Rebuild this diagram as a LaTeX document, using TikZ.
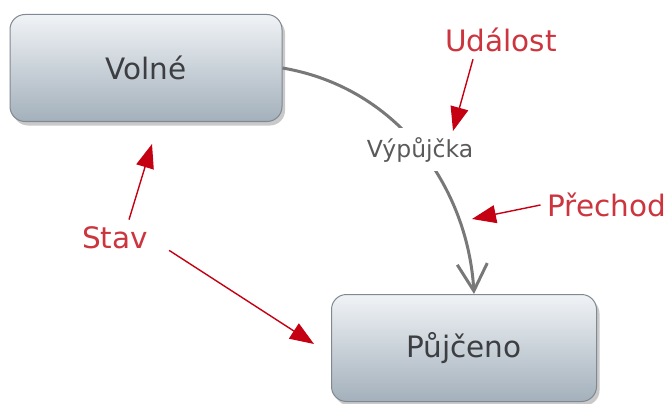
\documentclass[tikz,border=0pt]{standalone}
\usepackage{fontspec}
\setmainfont{DejaVu Sans}
\usetikzlibrary{arrows.meta,shadows}

\definecolor{boxtop}{RGB}{240,243,246}
\definecolor{boxbottom}{RGB}{163,176,187}
\definecolor{boxline}{RGB}{128,136,144}
\definecolor{boxtext}{RGB}{60,62,66}
\definecolor{flowgray}{RGB}{120,120,120}
\definecolor{eventtext}{RGB}{90,90,90}
\definecolor{notetext}{RGB}{204,52,62}
\definecolor{notearrow}{RGB}{196,0,18}

\tikzset{
  state/.style={draw=boxline, line width=1pt, rounded corners=15pt,
    top color=boxtop, bottom color=boxbottom,
    minimum width=272pt, minimum height=107pt,
    text=boxtext, font=\fontsize{29.5}{35}\selectfont,
    drop shadow={shadow xshift=3pt, shadow yshift=-4pt, opacity=0.3, fill=black!70}},
  event/.style={fill=white, inner sep=9pt, text=eventtext,
    font=\fontsize{23.5}{28}\selectfont},
  note/.style={text=notetext, font=\fontsize{29.5}{35}\selectfont, inner sep=7pt},
  flow/.style={draw=flowgray, line width=3pt,
    -{Straight Barb[length=27pt,width=30pt,line width=3pt]}},
  pointer/.style={draw=notearrow, line width=1.4pt,
    -{Triangle[length=24pt,width=18pt]}}
}

\begin{document}
\begin{tikzpicture}[x=1pt,y=-1pt]
  \useasboundingbox (0,0) rectangle (670,404);

  % states
  \node[state] (volne) at (146,68) {Volné};
  \node[state, minimum width=265pt] (pujceno) at (464,348) {Půjčeno};

  % transition with its event label
  \draw[flow] (volne.east) .. controls (400,88) and (468,190) .. ([xshift=10pt]pujceno.north)
    node[pos=0.5, event] (vypujcka) {Výpůjčka};

  % annotations
  \node[note] (udalost) at (501,40) {Událost};
  \node[note] (prechod) at (607,205) {Přechod};
  \node[note] (stav) at (115,238) {Stav};

  \coordinate (eventTip) at (453,131);
  \coordinate (flowTip) at (472,219);
  \coordinate (volneTip) at (152,144);
  \coordinate (pujcenoTip) at (314,344);

  \draw[pointer] ([xshift=-28pt]udalost.south) -- (eventTip);
  \draw[pointer] (prechod.west) -- (flowTip);
  \draw[pointer] ([xshift=14pt]stav.north) -- (volneTip);
  \draw[pointer] ([xshift=14pt,yshift=6pt]stav.south east) -- (pujcenoTip);
\end{tikzpicture}
\end{document}
